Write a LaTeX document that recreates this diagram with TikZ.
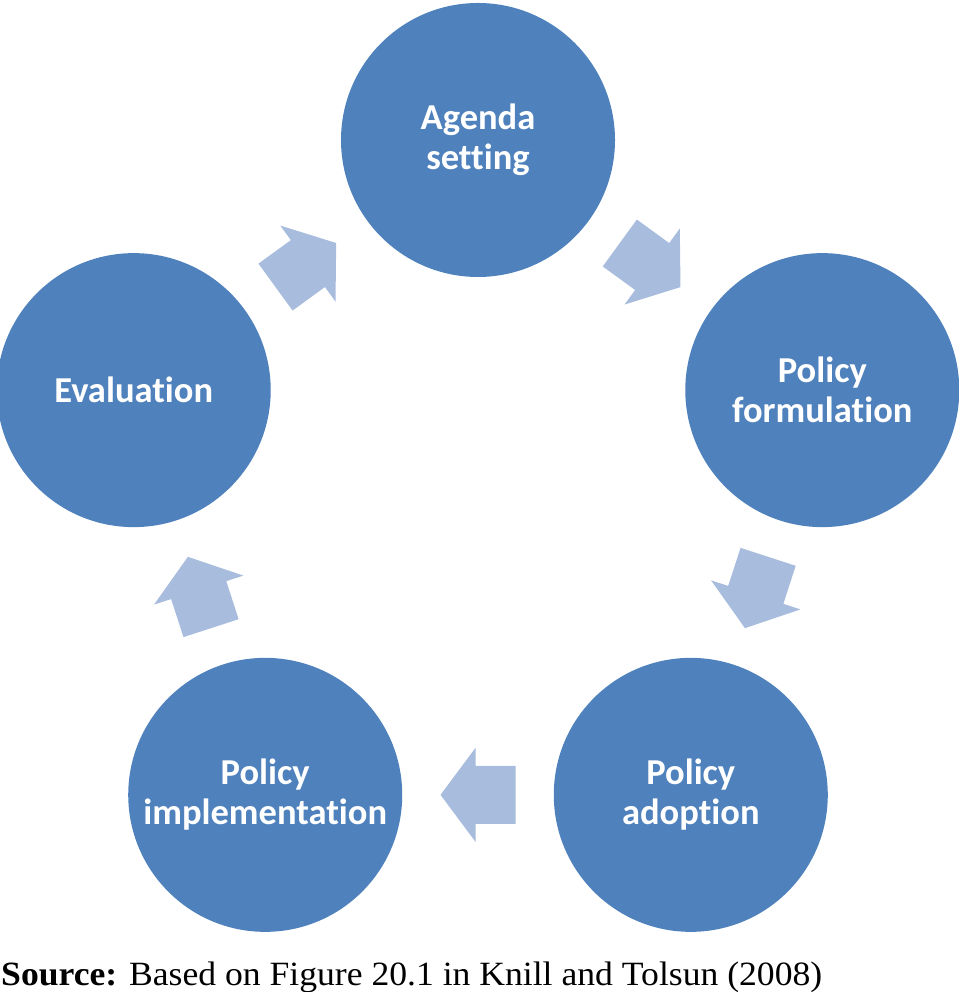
\documentclass[tikz,border=0pt]{standalone}
\usepackage{fontspec}
\usepackage{graphicx}
\usetikzlibrary{calc}
\newfontfamily\carlitofont[Ligatures=NoCommon]{Carlito}
\newfontfamily\serifsrc{Liberation Serif}
\definecolor{circblue}{RGB}{79,129,189}
\definecolor{arrowblue}{RGB}{168,188,221}
\tikzset{
  stage/.style={circle, fill=circblue, minimum size=274pt, inner sep=0pt,
    text=white, align=center, font=\carlitofont\bfseries\fontsize{36.5}{40}\selectfont},
  blockarrow/.style={fill=arrowblue}
}
\begin{document}
\begin{tikzpicture}[x=1pt,y=1pt]
\useasboundingbox (0,0) rectangle (958,992);
\begin{scope}[shift={(478,490)}]
  \node[stage] (a) at (90:362) {Agenda\\setting};
  \node[stage] (f) at (18:362) {Policy\\formulation};
  \node[stage] (d) at (-54:362) {Policy\\adoption};
  \node[stage] (i) at (-126:362) {Policy\\implementation};
  \node[stage] (e) at (162:362) {Evaluation};
\end{scope}
\foreach \p/\q/\ang in {a/f/-36, f/d/-108, d/i/180, i/e/108, e/a/36}{
  \coordinate (m\p) at ($(\p)!0.5!(\q)$);
  \fill[blockarrow, shift={(m\p)}, rotate=\ang]
    (-37.5,29) -- (2.5,29) -- (2.5,47) -- (37.5,0) -- (2.5,-47) -- (2.5,-29) -- (-37.5,-29) -- cycle;
}
\node[anchor=base west, inner sep=0pt] (src) at (1,7)
  {\resizebox{821pt}{\height}{\serifsrc\fontsize{34}{40}\selectfont\textbf{Source:} Based on Figure 20.1 in Knill and Tolsun (2008)}};
\end{tikzpicture}
\end{document}
